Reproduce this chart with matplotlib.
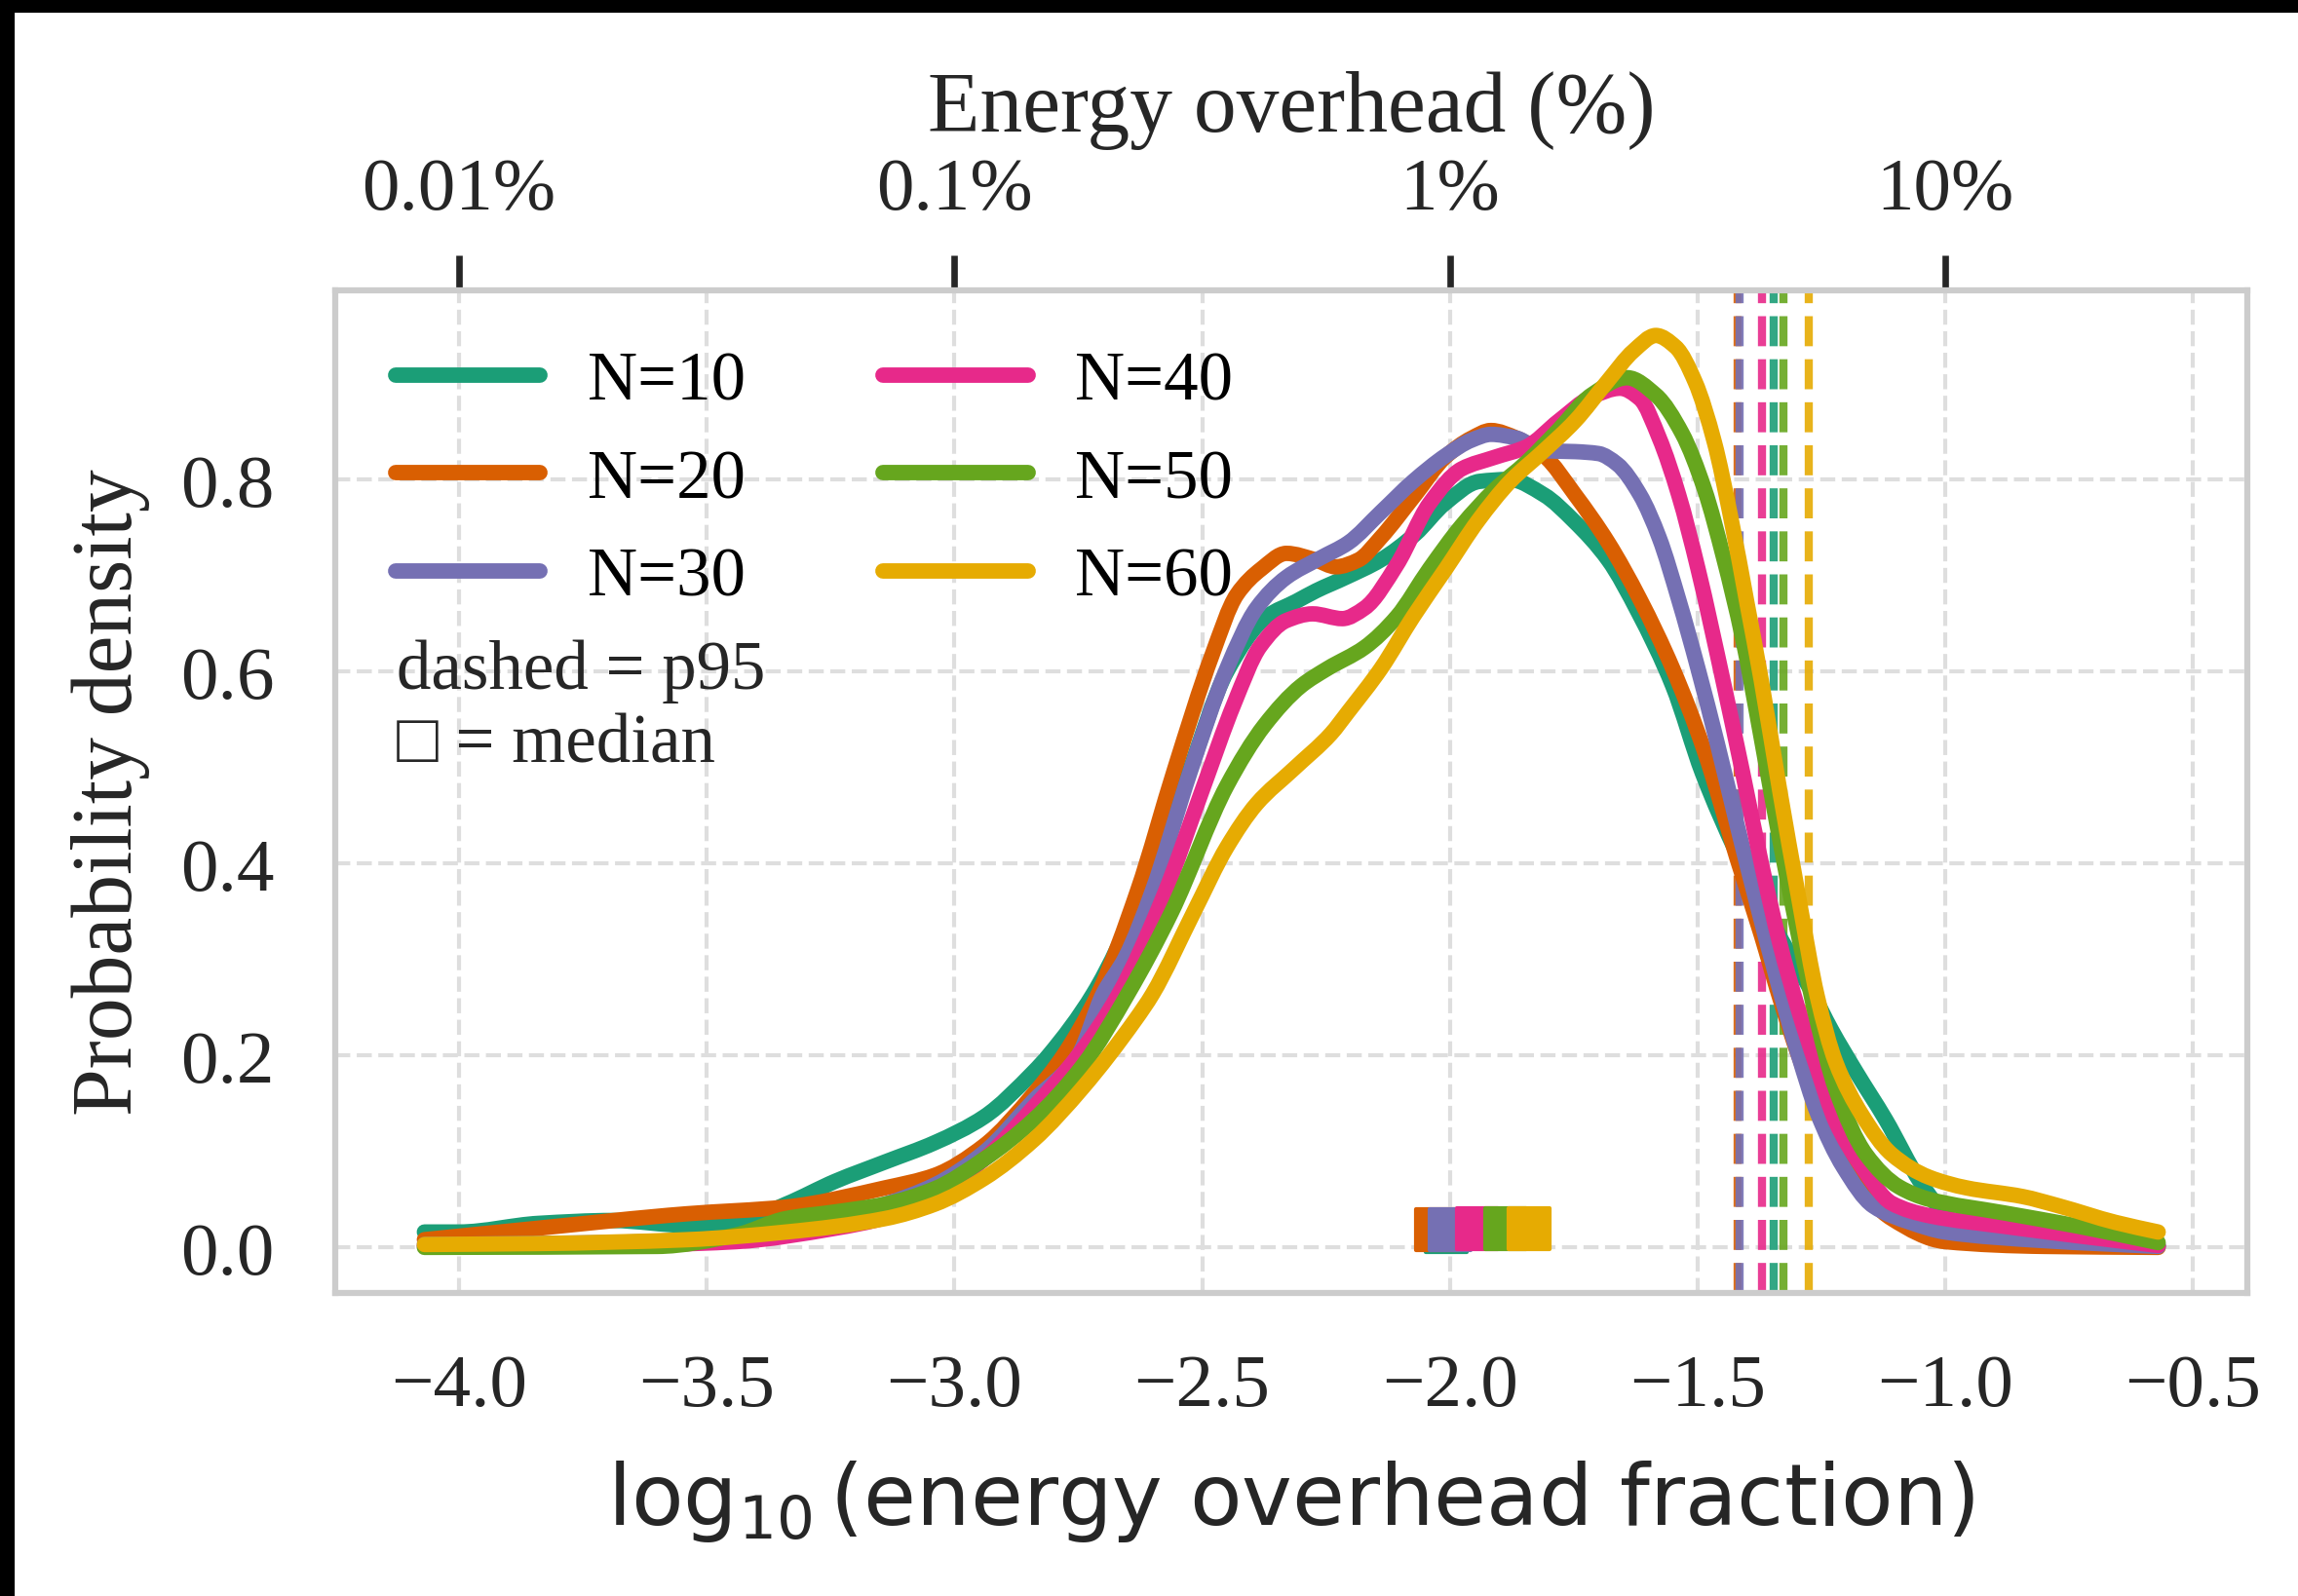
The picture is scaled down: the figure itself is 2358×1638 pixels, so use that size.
import numpy as np
import matplotlib.pyplot as plt
from matplotlib.lines import Line2D
from matplotlib.markers import MarkerStyle
from matplotlib.patches import PathPatch, Rectangle
from matplotlib.path import Path

plt.rcParams['font.family'] = ['Liberation Serif', 'DejaVu Sans']
plt.rcParams['mathtext.fontset'] = 'dejavusans'
plt.rcParams['lines.solid_capstyle'] = 'round'

labels = ['N=10', 'N=20', 'N=30', 'N=40', 'N=50', 'N=60']
colors = ['#1b9e77', '#d95f02', '#7570b3', '#e7298a', '#66a61e', '#e6ab02']

# KDE curves (x = log10 overhead fraction, y = density)
x10 = [-4.07, -4.0, -3.84, -3.69, -3.54, -3.44, -3.34, -3.24, -3.14, -3.04,
       -2.94, -2.84, -2.81, -2.72, -2.62, -2.53, -2.45, -2.37, -2.31, -2.27,
       -2.21, -2.14, -2.07, -2.01, -1.94, -1.88, -1.81, -1.75, -1.68, -1.62,
       -1.55, -1.49, -1.42, -1.33, -1.27, -1.23, -1.18, -1.12, -1.05, -1.01,
       -0.95, -0.85, -0.70, -0.57]
y10 = [0.016, 0.016, 0.025, 0.028, 0.023, 0.026, 0.045, 0.069, 0.089, 0.109,
       0.136, 0.183, 0.200, 0.264, 0.370, 0.490, 0.600, 0.657, 0.673, 0.684,
       0.698, 0.716, 0.743, 0.775, 0.798, 0.800, 0.784, 0.757, 0.716, 0.662,
       0.585, 0.494, 0.410, 0.320, 0.267, 0.227, 0.183, 0.133, 0.068, 0.040,
       0.014, 0.005, 0.003, 0.002]

x20 = [-4.07, -3.84, -3.54, -3.34, -3.14, -3.04, -2.94, -2.84, -2.78, -2.71,
       -2.63, -2.555, -2.48, -2.43, -2.38, -2.33, -2.27, -2.23, -2.185, -2.14,
       -2.07, -2.01, -1.956, -1.917, -1.865, -1.81, -1.747, -1.68, -1.616, -1.55,
       -1.486, -1.42, -1.371, -1.334, -1.296, -1.258, -1.183, -1.108, -1.0, -0.8,
       -0.57]
y20 = [0.008, 0.020, 0.035, 0.042, 0.062, 0.075, 0.106, 0.160, 0.200, 0.264,
       0.372, 0.499, 0.617, 0.680, 0.707, 0.723, 0.716, 0.709, 0.716, 0.739,
       0.784, 0.823, 0.843, 0.851, 0.843, 0.825, 0.784, 0.734, 0.675, 0.603,
       0.517, 0.405, 0.325, 0.260, 0.200, 0.150, 0.070, 0.030, 0.006, 0.001,
       0.0]

x30 = [-4.07, -3.7, -3.4, -3.24, -3.14, -3.04, -2.94, -2.84, -2.75, -2.70,
       -2.655, -2.60, -2.525, -2.45, -2.39, -2.33, -2.262, -2.205, -2.139, -2.074,
       -2.008, -1.956, -1.917, -1.865, -1.812, -1.747, -1.70, -1.662, -1.616, -1.577,
       -1.538, -1.499, -1.46, -1.42, -1.381, -1.34, -1.296, -1.258, -1.206, -1.145,
       -1.07, -1.0, -0.8, -0.57]
y30 = [0.003, 0.005, 0.012, 0.031, 0.045, 0.065, 0.099, 0.153, 0.200, 0.264,
       0.302, 0.372, 0.494, 0.603, 0.666, 0.698, 0.718, 0.734, 0.766, 0.798,
       0.825, 0.841, 0.847, 0.843, 0.830, 0.829, 0.827, 0.816, 0.784, 0.739,
       0.675, 0.603, 0.525, 0.440, 0.360, 0.280, 0.200, 0.140, 0.084, 0.043,
       0.026, 0.016, 0.007, 0.001]

x40 = [-4.07, -3.6, -3.44, -3.24, -3.14, -3.04, -2.94, -2.84, -2.75, -2.668,
       -2.577, -2.50, -2.435, -2.383, -2.33, -2.277, -2.217, -2.172, -2.107, -2.041,
       -1.976, -1.91, -1.845, -1.78, -1.714, -1.656, -1.616, -1.577, -1.538, -1.499,
       -1.447, -1.409, -1.371, -1.334, -1.296, -1.258, -1.221, -1.168, -1.108, -1.032,
       -0.882, -0.731, -0.57]
y40 = [0.001, 0.003, 0.006, 0.020, 0.031, 0.055, 0.092, 0.146, 0.200, 0.264,
       0.367, 0.476, 0.567, 0.626, 0.653, 0.660, 0.655, 0.666, 0.711, 0.775,
       0.811, 0.823, 0.834, 0.861, 0.886, 0.895, 0.884, 0.843, 0.784, 0.707,
       0.587, 0.495, 0.400, 0.317, 0.247, 0.186, 0.131, 0.084, 0.046, 0.033,
       0.022, 0.012, 0.002]

x50 = [-4.07, -3.6, -3.44, -3.34, -3.24, -3.14, -3.04, -2.94, -2.84, -2.74,
       -2.65, -2.562, -2.45, -2.374, -2.30, -2.247, -2.172, -2.107, -2.041, -1.976,
       -1.91, -1.845, -1.78, -1.714, -1.642, -1.584, -1.531, -1.486, -1.447, -1.409,
       -1.371, -1.334, -1.296, -1.258, -1.221, -1.16, -1.093, -1.032, -0.882, -0.731,
       -0.57]
y50 = [0.0, 0.001, 0.013, 0.030, 0.037, 0.045, 0.061, 0.092, 0.133, 0.190,
       0.264, 0.349, 0.481, 0.544, 0.585, 0.603, 0.625, 0.657, 0.707, 0.752,
       0.789, 0.818, 0.852, 0.888, 0.906, 0.888, 0.848, 0.790, 0.718, 0.635,
       0.530, 0.425, 0.325, 0.235, 0.165, 0.097, 0.063, 0.050, 0.036, 0.022,
       0.005]

x60 = [-4.07, -3.84, -3.54, -3.34, -3.14, -3.04, -2.94, -2.84, -2.74, -2.635,
       -2.60, -2.517, -2.45, -2.39, -2.314, -2.24, -2.205, -2.139, -2.074, -2.008,
       -1.943, -1.878, -1.812, -1.747, -1.682, -1.629, -1.584, -1.544, -1.505, -1.466,
       -1.433, -1.40, -1.371, -1.334, -1.296, -1.258, -1.221, -1.168, -1.108, -1.032,
       -0.957, -0.844, -0.769, -0.656, -0.57]
y60 = [0.003, 0.004, 0.008, 0.016, 0.030, 0.045, 0.072, 0.112, 0.167, 0.237,
       0.264, 0.349, 0.417, 0.462, 0.499, 0.535, 0.558, 0.603, 0.657, 0.707,
       0.757, 0.798, 0.829, 0.861, 0.902, 0.934, 0.950, 0.938, 0.902, 0.839,
       0.761, 0.671, 0.590, 0.476, 0.365, 0.261, 0.193, 0.138, 0.097, 0.073,
       0.062, 0.053, 0.043, 0.026, 0.016]

xs = [x10, x20, x30, x40, x50, x60]
ys = [y10, y20, y30, y40, y50, y60]

medians = [-2.008, -2.026, -2.0, -1.945, -1.888, -1.84]
median_y = [0.016, 0.018, 0.018, 0.019, 0.019, 0.020]
p95 = [-1.346, -1.419, -1.415, -1.370, -1.327, -1.276]

top_ticks = [-4, -3, -2, -1]
top_labels = ['0.01%', '0.1%', '1%', '10%']


def smooth_path(x, y):
    # monotone cubic (pchip-style) bezier through the read points
    x = np.asarray(x, float)
    y = np.asarray(y, float)
    h = np.diff(x)
    d = np.diff(y) / h
    m = np.zeros_like(y)
    m[0], m[-1] = d[0], d[-1]
    for k in range(1, len(x) - 1):
        if d[k - 1] * d[k] > 0:
            w1 = 2 * h[k] + h[k - 1]
            w2 = h[k] + 2 * h[k - 1]
            m[k] = (w1 + w2) / (w1 / d[k - 1] + w2 / d[k])
    verts = [(x[0], y[0])]
    codes = [Path.MOVETO]
    for k in range(len(x) - 1):
        verts += [(x[k] + h[k] / 3, y[k] + m[k] * h[k] / 3),
                  (x[k + 1] - h[k] / 3, y[k + 1] - m[k + 1] * h[k] / 3),
                  (x[k + 1], y[k + 1])]
        codes += [Path.CURVE4] * 3
    return Path(verts, codes)


fig = plt.figure(figsize=(2358 / 300, 1639 / 300), dpi=300)
ax = fig.add_axes([344 / 2358, 1 - 1328 / 1639, 1962 / 2358, 1029 / 1639])

lw = 3.8
handles = []
for x, y, c, lab in zip(xs, ys, colors, labels):
    ax.add_patch(PathPatch(smooth_path(x, y), fill=False, edgecolor=c, lw=lw,
                           capstyle='round', joinstyle='round', zorder=3))
    handles.append(Line2D([], [], color=c, lw=lw, label=lab))
for xp, c in zip(p95, colors):
    ax.axvline(xp, color=c, lw=2.0, ls='--', alpha=0.9, zorder=2)
sq = MarkerStyle('s', joinstyle='round')
for xm, ym, c in zip(medians, median_y, colors):
    ax.plot([xm], [ym], marker=sq, ms=10, mew=1.0, color=c, mec=c, ls='none', zorder=4)

ax.set_xlim(-4.25, -0.39)
ax.set_ylim(-0.0475, 0.997)
ax.set_xticks([-4.0, -3.5, -3.0, -2.5, -2.0, -1.5, -1.0, -0.5])
ax.set_yticks([0.0, 0.2, 0.4, 0.6, 0.8])
ax.tick_params(axis='both', length=0, pad=15, labelsize=18.5, labelcolor='0.15')
ax.grid(True, ls='--', lw=1.0, color='#dedede', zorder=0)
ax.set_axisbelow(True)
for s in ax.spines.values():
    s.set_color('#cccccc')
    s.set_linewidth(1.5)

ax.set_xlabel(r'$\log_{10}$(energy overhead fraction)', family='DejaVu Sans',
              fontsize=21, color='0.15', labelpad=9)
ax.set_ylabel('Probability density', fontsize=21, color='0.15', labelpad=7.5)

sec = ax.secondary_xaxis('top')
sec.set_xticks(top_ticks, labels=top_labels)
sec.tick_params(axis='x', length=8.6, width=1.6, color='0.15', pad=7.8,
                labelsize=18.5, labelcolor='0.15')
sec.spines['top'].set_visible(False)
sec.set_xlabel('Energy overhead (%)', fontsize=21, color='0.15', labelpad=6.5)

ax.legend(handles=handles, loc='upper left', ncol=2, frameon=False, fontsize=17,
          handlelength=2.1, handletextpad=0.68, columnspacing=2.0,
          labelspacing=0.5, borderaxespad=0.47)

ax.text(0.032, 0.6035, 'dashed = p95', transform=ax.transAxes, fontsize=17,
        color='0.15', va='baseline')
ax.text(0.032, 0.5306, '\u25a1 = median', transform=ax.transAxes, fontsize=17,
        color='0.15', va='baseline', family=['Liberation Serif', 'DejaVu Sans'])

# black strips along the top and left edge as in the source image
fig.add_artist(Rectangle((0, 1 - 12 / 1639), 1, 12 / 1639, transform=fig.transFigure,
                         color='black', zorder=10))
fig.add_artist(Rectangle((0, 0), 13 / 2358, 1, transform=fig.transFigure,
                         color='black', zorder=10))

fig.savefig('out.png', dpi=300)
